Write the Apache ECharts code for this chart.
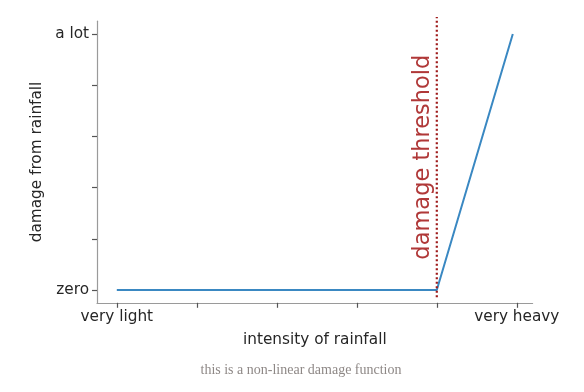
<!DOCTYPE html>
<html><head><meta charset="utf-8">
<script src="https://cdn.jsdelivr.net/npm/echarts@6/dist/echarts.min.js"></script>
<style>html,body{margin:0;padding:0;background:#fff}#c{width:584px;height:392px}</style>
</head><body><div id="c"></div>
<script>
// rainfall intensity (tick units 0..5) and damage (0..5)
const intensity = [0, 4, 4.95];
const damage = [0, 0, 5];
const xTicks = [0, 1, 2, 3, 4, 5];
const xTickLabels = {0: 'very light', 5: 'very heavy'};
const yTicks = [0, 1, 2, 3, 4, 5];
const yTickLabels = {0: 'zero', 5: 'a lot'};
const threshold = 4;
const thresholdSpan = [-0.14, 5.33];
const thresholdLabel = 'damage threshold';

const chart = echarts.init(document.getElementById('c'), null, {renderer: 'canvas'});
const axisCol = '#9a9a9a';
const font = 'DejaVu Sans';
const fs = 15.3;
chart.setOption({
  animation: false,
  grid: {left: 97, right: 51.4, top: 21.2, height: 281.6},
  title: {
    text: 'this is a non-linear damage function',
    left: 296, top: 358, textAlign: 'center',
    textStyle: {fontFamily: 'Liberation Serif', fontSize: 14, fontWeight: 'normal', color: '#8e8886'}
  },
  xAxis: {
    type: 'value', min: -0.2475, max: 5.1975,
    name: 'intensity of rainfall', nameLocation: 'middle', nameGap: 30,
    nameTextStyle: {fontFamily: font, fontSize: fs, color: '#262626'},
    axisLine: {show: true, onZero: false, lineStyle: {color: axisCol, width: 1.2}},
    axisTick: {show: true, length: 5, customValues: xTicks, lineStyle: {color: '#555', width: 1.2}},
    axisLabel: {customValues: [0, 5], formatter: v => xTickLabels[v] || '', fontFamily: font, fontSize: fs, color: '#262626', margin: 7},
    splitLine: {show: false}
  },
  yAxis: {
    type: 'value', min: -0.25, max: 5.25,
    name: 'damage from rainfall', nameLocation: 'middle', nameGap: 43, nameRotate: 90,
    nameTextStyle: {fontFamily: font, fontSize: fs, color: '#262626'},
    axisLine: {show: true, onZero: false, lineStyle: {color: axisCol, width: 1.2}},
    axisTick: {show: true, length: 5, customValues: yTicks, lineStyle: {color: '#555', width: 1.2}},
    axisLabel: {customValues: [0, 5], formatter: v => yTickLabels[v] || '', fontFamily: font, fontSize: fs, color: '#262626', margin: 8},
    splitLine: {show: false}
  },
  series: [{
    type: 'line',
    data: intensity.map((x, i) => [x, damage[i]]),
    symbol: 'none',
    lineStyle: {color: '#3a88c2', width: 2},
    z: 2
  }, {
    type: 'line',
    clip: false,
    data: [[threshold, thresholdSpan[0]], [threshold, thresholdSpan[1]]],
    symbol: 'none',
    lineStyle: {type: [2, 2.5], color: '#9e1a1a', width: 2.2},
    z: 3,
    markPoint: {
      symbol: 'rect',
      symbolSize: 2,
      silent: true,
      itemStyle: {color: 'rgba(0,0,0,0)'},
      data: [{coord: [threshold, (thresholdSpan[0] + thresholdSpan[1]) / 2]}],
      label: {
        show: true, position: 'inside', formatter: thresholdLabel, rotate: 90, offset: [0, -14],
        fontFamily: font, fontSize: 22.5, color: '#b03838'
      }
    }
  }]
});
</script></body></html>
